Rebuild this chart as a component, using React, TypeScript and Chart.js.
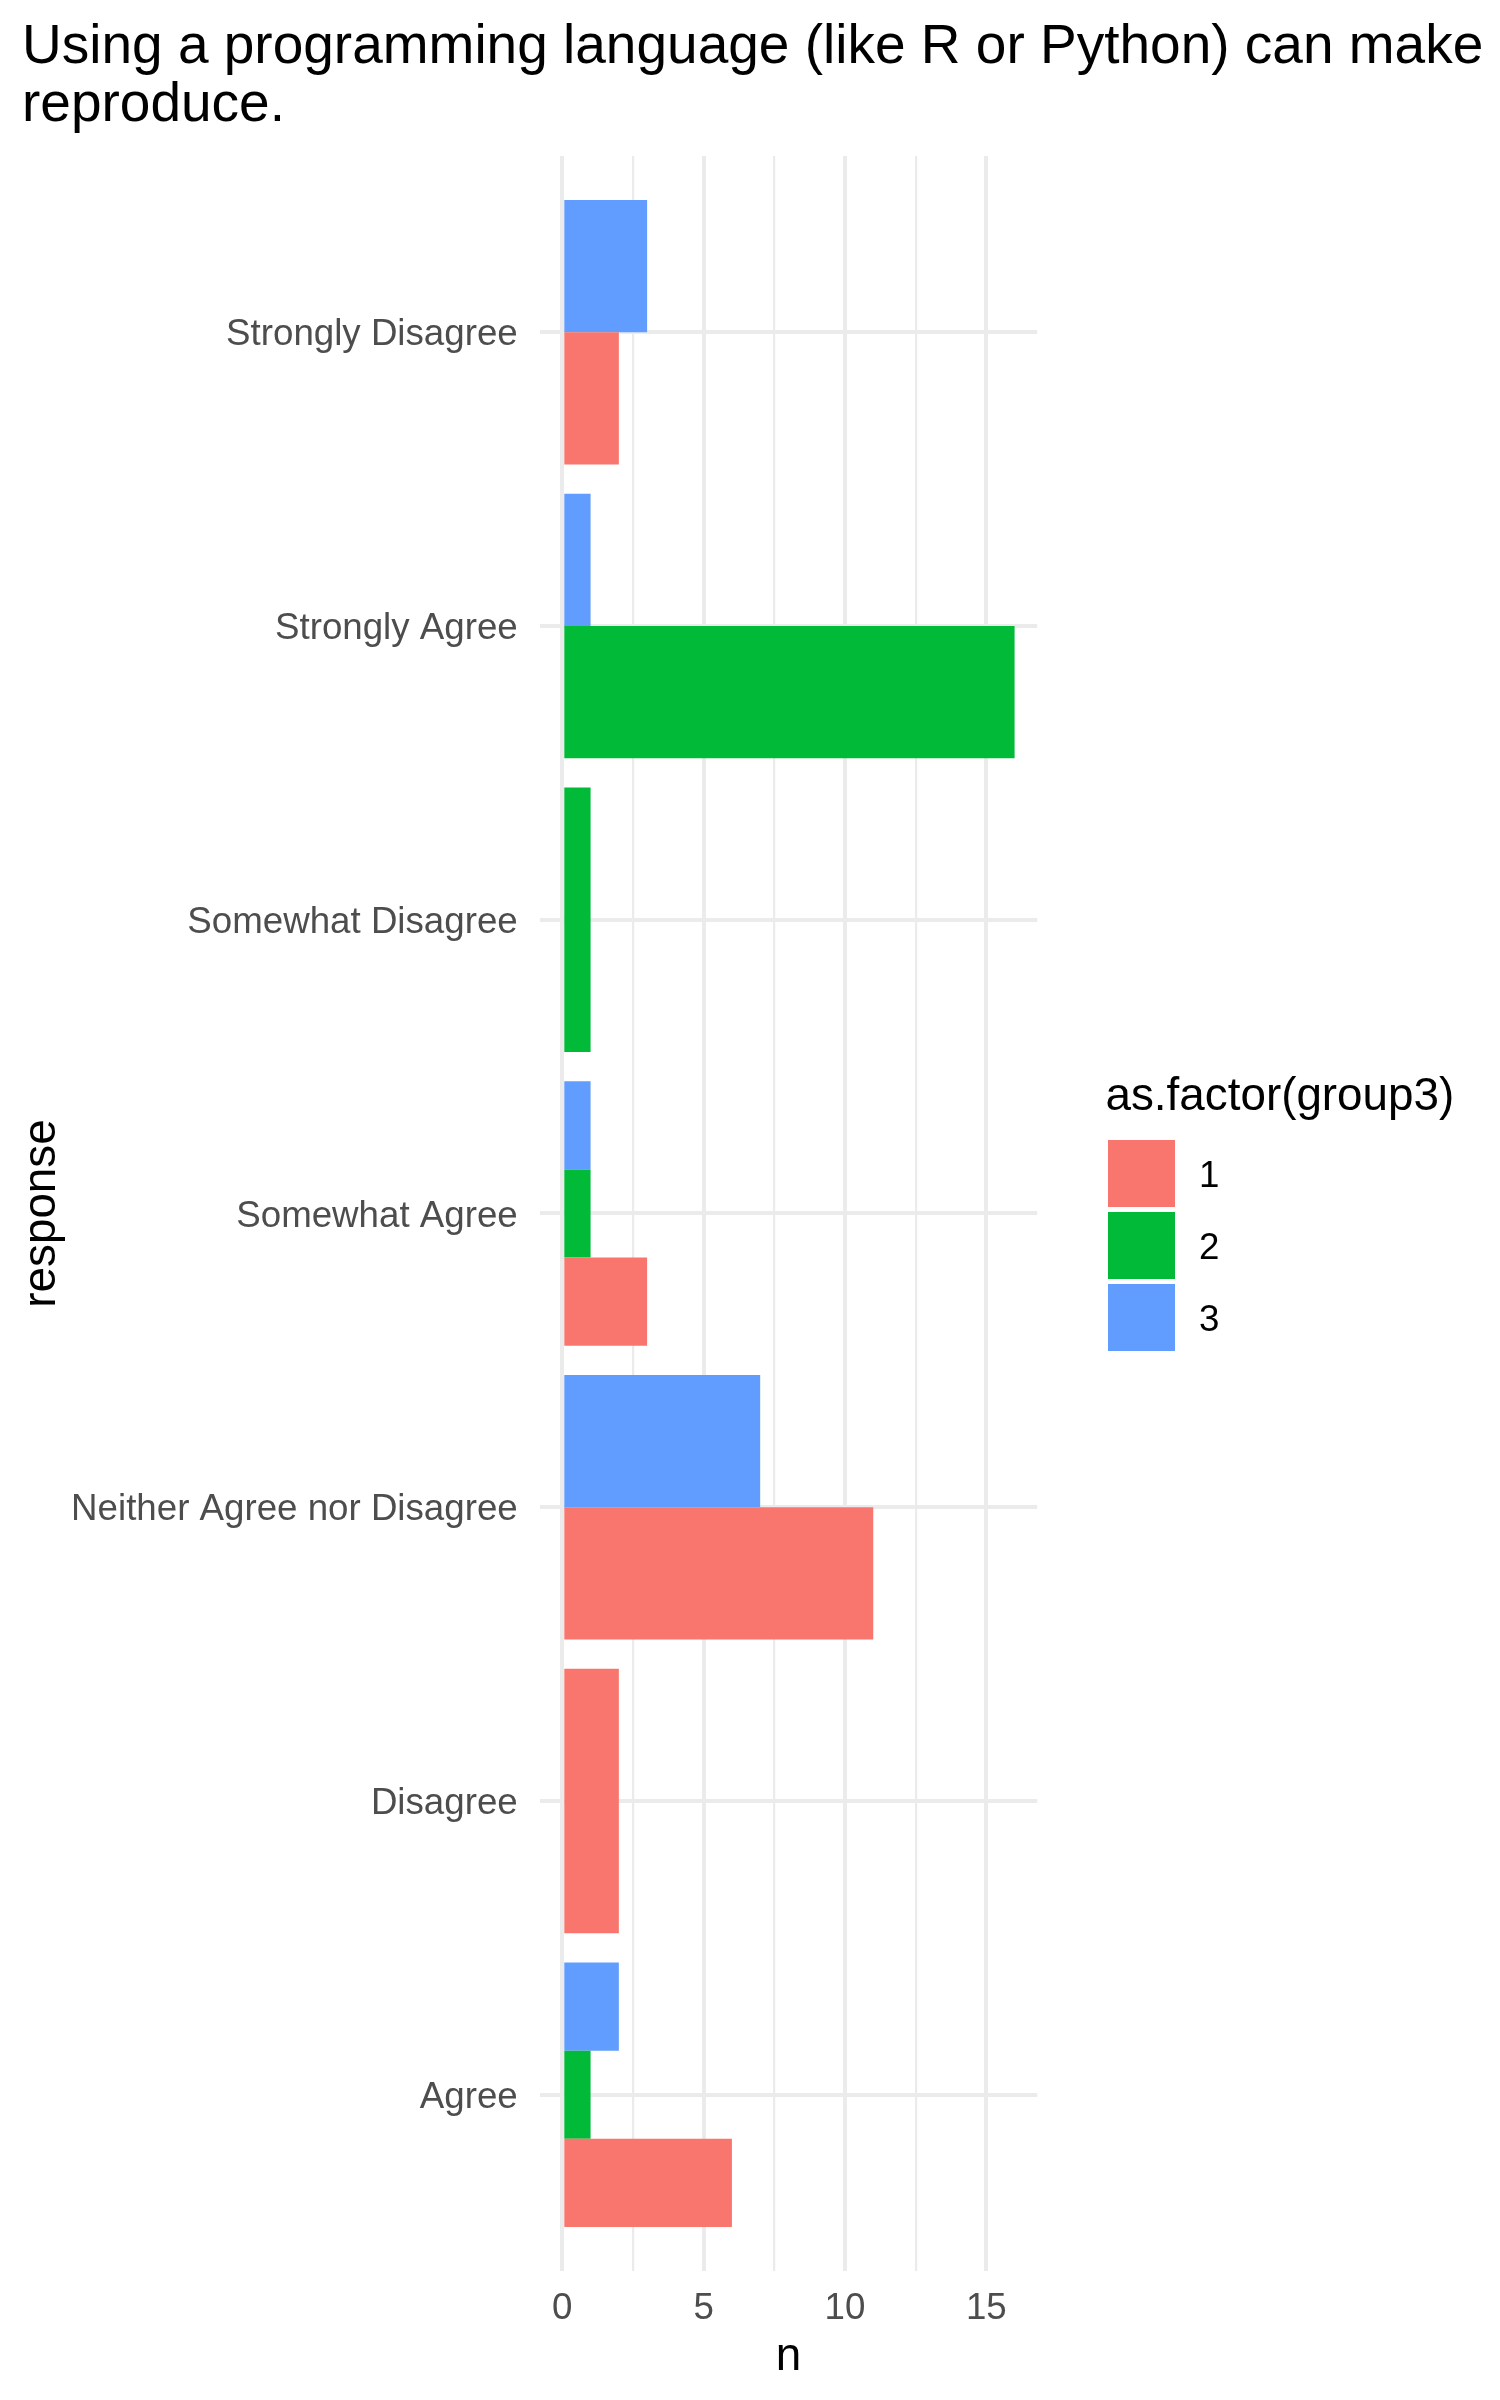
import React, { useEffect, useRef } from "react";
import { Chart, registerables } from "chart.js";

Chart.register(...registerables);

// ---------------- data ----------------
const titleLines = [
  "Using a programming language (like R or Python) can make",
  "reproduce.",
];
const categories = [
  "Agree",
  "Disagree",
  "Neither Agree nor Disagree",
  "Somewhat Agree",
  "Somewhat Disagree",
  "Strongly Agree",
  "Strongly Disagree",
];
const groupLabels = ["1", "2", "3"];
const group1: (number | null)[] = [6, 2, 11, 3, null, null, 2];
const group2: (number | null)[] = [1, null, null, 1, 1, 16, null];
const group3: (number | null)[] = [2, null, 7, 1, null, 1, 3];
const groupColors = ["#F8766D", "#00BA38", "#619CFF"];
const xGridTicks = [0, 2.5, 5, 7.5, 10, 12.5, 15];
const xLabelTicks = [0, 5, 10, 15];
const xAxisTitle = "n";
const yAxisTitle = "response";
const legendTitle = "as.factor(group3)";

// ---------------- styling ----------------
const FONT = '"Liberation Sans", Arial, Helvetica, sans-serif';
const W = 1500;
const H = 2400;
const DODGE = 0.9;
const GRID = "#EBEBEB";

// build dodged bars (ggplot position_dodge: width split among groups present)
const series = [group1, group2, group3];
type Pt = { x: number; y: number };
const buckets: Record<string, Pt[]> = {};
const allCenters: number[] = [];
categories.forEach((_, i) => {
  const present = series
    .map((s, g) => ({ g, v: s[i] }))
    .filter((d) => d.v !== null && d.v !== undefined);
  const n = present.length;
  present.forEach((d, k) => {
    const y = i - DODGE / 2 + (DODGE * (2 * k + 1)) / (2 * n);
    const key = `${d.g}-${n}`;
    (buckets[key] = buckets[key] || []).push({ x: d.v as number, y });
    allCenters.push(y);
  });
});
const sortedCenters = Array.from(new Set(allCenters)).sort((a, b) => a - b);
let minDiff = 1; // tick spacing on the category axis
for (let i = 1; i < sortedCenters.length; i++) {
  const d = sortedCenters[i] - sortedCenters[i - 1];
  if (d > 1e-9) minDiff = Math.min(minDiff, d);
}

const datasets: any[] = [];
for (let g = 0; g < series.length; g++) {
  for (let n = 1; n <= series.length; n++) {
    const data = buckets[`${g}-${n}`];
    if (!data) continue;
    datasets.push({
      label: groupLabels[g],
      data,
      backgroundColor: groupColors[g],
      borderWidth: 0,
      grouped: false,
      categoryPercentage: 1,
      barPercentage: DODGE / n / minDiff,
    });
  }
}

const decorPlugin = {
  id: "decor",
  afterDraw(chart: any) {
    const { ctx, chartArea } = chart;
    ctx.save();
    // plot title
    ctx.fillStyle = "#000000";
    ctx.font = `55px ${FONT}`;
    ctx.textAlign = "left";
    ctx.textBaseline = "alphabetic";
    ctx.fillText(titleLines[0], 22, 63.3);
    ctx.fillText(titleLines[1], 22, 120.7);

    // legend
    const cy = (chartArea.top + chartArea.bottom) / 2;
    const lx = chartArea.right + 68.3;
    ctx.font = `45.8px ${FONT}`;
    ctx.fillText(legendTitle, lx, cy - 103.5);
    const keyTop = cy - 76;
    ctx.font = `36.7px ${FONT}`;
    groupLabels.forEach((lab, i) => {
      const top = keyTop + i * 72;
      ctx.fillStyle = groupColors[i];
      ctx.fillRect(lx + 2.5, top + 2.5, 67, 67);
      ctx.fillStyle = "#000000";
      ctx.fillText(lab, lx + 93.5, top + 36 + 13.1);
    });
    ctx.restore();
  },
};

export default function App() {
  const ref = useRef<HTMLCanvasElement | null>(null);
  useEffect(() => {
    document.body.style.margin = "0";
    const canvas = ref.current;
    if (!canvas) return;
    const chart = new Chart(canvas, {
      type: "bar",
      data: { datasets },
      plugins: [decorPlugin],
      options: {
        animation: false,
        responsive: false,
        devicePixelRatio: 1,
        indexAxis: "y",
        layout: { padding: { top: 156, right: 462.8, bottom: 0, left: 0 } },
        plugins: {
          legend: { display: false },
          tooltip: { enabled: false },
          title: { display: false },
        },
        scales: {
          x: {
            type: "linear",
            min: -0.8,
            max: 16.8,
            offset: false,
            afterBuildTicks: (scale: any) => {
              scale.ticks = xGridTicks.map((v) => ({ value: v }));
            },
            afterFit: (scale: any) => {
              scale.height = 129;
            },
            ticks: {
              autoSkip: false,
              maxRotation: 0,
              padding: 16,
              color: "#4D4D4D",
              font: { family: FONT, size: 36.7 },
              callback: (v: any) => (xLabelTicks.includes(Number(v)) ? String(v) : ""),
            },
            grid: {
              color: GRID,
              drawTicks: false,
              offset: false,
              lineWidth: (c: any) =>
                c.tick && xLabelTicks.includes(c.tick.value) ? 4 : 2.2,
            },
            border: { display: false },
            title: {
              display: true,
              text: xAxisTitle,
              color: "#000000",
              font: { family: FONT, size: 45.8 },
              padding: { top: 0, bottom: 15 },
            },
          },
          y: {
            type: "linear",
            min: -0.6,
            max: 6.6,
            offset: false,
            afterBuildTicks: (scale: any) => {
              scale.ticks = categories.map((_, i) => ({ value: i }));
            },
            afterFit: (scale: any) => {
              scale.width = 539.7;
            },
            ticks: {
              autoSkip: false,
              padding: 22,
              labelOffset: 3,
              color: "#4D4D4D",
              font: { family: FONT, size: 36.7 },
              callback: (v: any) => categories[Math.round(Number(v))] ?? "",
            },
            grid: { color: GRID, lineWidth: 4, drawTicks: false, offset: false },
            border: { display: false },
            title: {
              display: true,
              text: yAxisTitle,
              color: "#000000",
              font: { family: FONT, size: 45.8 },
              padding: { top: 14.5, bottom: 0 },
            },
          },
        },
      } as any,
    });
    return () => chart.destroy();
  }, []);
  return (
    <div style={{ width: W, height: H, background: "#ffffff" }}>
      <canvas ref={ref} width={W} height={H} style={{ width: W, height: H, display: "block" }} />
    </div>
  );
}
